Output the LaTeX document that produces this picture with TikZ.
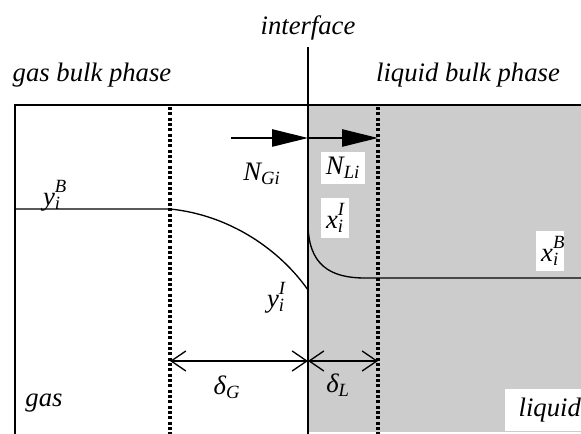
\documentclass[tikz,border=0pt]{standalone}
\usepackage{fontspec}
\setmainfont{Liberation Serif}
\usepackage{tikz}
\usetikzlibrary{arrows.meta}
\definecolor{liquidgray}{RGB}{204,204,204}

\newcommand{\subsup}[3]{#1\rlap{\raisebox{2pt}{\textsuperscript{#3}}}\textsubscript{#2}}

\tikzset{
  lbl/.style={font=\fontsize{20}{24}\selectfont\itshape, inner sep=1pt},
  whitelbl/.style={lbl, fill=white, inner sep=4pt},
  wall/.style={line width=1.1pt},
  film/.style={line width=2.4pt, dash pattern=on 2.3pt off 1.7pt},
  profile/.style={line width=1pt},
  flux/.style={line width=1.1pt, -{Triangle[length=27pt,width=13pt]}},
  thickness/.style={line width=1pt, {Straight Barb[length=11pt,width=15pt]}-{Straight Barb[length=11pt,width=15pt]}}
}

\begin{document}
\begin{tikzpicture}[x=0.75pt,y=-0.75pt]
  \useasboundingbox (0,0) rectangle (581,434);

  % liquid side
  \fill[liquidgray] (308,105) rectangle (590,432);

  % box and interface
  \draw[wall] (15,434) -- (15,105) -- (590,105);
  \coordinate (ifacetop) at (308,47);
  \coordinate (ifacebot) at (308,440);
  \draw[wall] (ifacetop) -- (ifacebot);

  % film boundaries
  \coordinate (gfilmtop) at (170,107);
  \coordinate (gfilmbot) at (170,440);
  \coordinate (lfilmtop) at (378,107);
  \coordinate (lfilmbot) at (378,440);
  \draw[film] (gfilmtop) -- (gfilmbot);
  \draw[film] (lfilmtop) -- (lfilmbot);

  % headings
  \node[lbl] (iface) at (308,28) {interface};
  \node[lbl] (gasbulk) at (92,75) {gas bulk phase};
  \node[lbl] (liqbulk) at (468,75) {liquid bulk phase};

  % concentration profiles
  \coordinate (yb) at (15,209);
  \coordinate (ybend) at (170,209);
  \coordinate (yi) at (308,290);
  \coordinate (xi) at (308,223);
  \coordinate (xbstart) at (365,278);
  \coordinate (xb) at (590,278);
  \draw[profile] (yb) -- (ybend) .. controls (230,215) and (280,250) .. (yi);
  \draw[profile] (xi) .. controls (308,265) and (330,278) .. (xbstart) -- (xb);

  % fluxes
  \coordinate (gstart) at (231,138);
  \coordinate (imid) at (308,138);
  \coordinate (lend) at (378,138);
  \draw[flux] (gstart) -- (imid);
  \draw[flux] (imid) -- (lend);

  % labels
  \node[lbl] (ybl) at (52,196) {\subsup{y}{i}{B}};
  \node[lbl] (ngi) at (262,174) {N\textsubscript{Gi}};
  \node[whitelbl] (nli) at (343,168) {N\textsubscript{Li}};
  \node[whitelbl] (xil) at (335,218) {\subsup{x}{i}{I}};
  \node[lbl] (yil) at (276,298) {\subsup{y}{i}{I}};
  \node[whitelbl] (xbl) at (550,251) {\subsup{x}{i}{B}};

  % film thicknesses
  \coordinate (dgl) at (170,361);
  \coordinate (dif) at (308,361);
  \coordinate (dlr) at (378,361);
  \draw[thickness] (dgl) -- (dif);
  \draw[thickness] (dif) -- (dlr);
  \node[lbl] (deltag) at (227,387) {δ\textsubscript{G}};
  \node[lbl] (deltal) at (338,385) {δ\textsubscript{L}};

  \node[lbl] (gas) at (44,403) {gas};
  \node[whitelbl, anchor=west, minimum height=32pt, inner xsep=10pt] (liquid) at (505,410) {liquid};
\end{tikzpicture}
\end{document}
